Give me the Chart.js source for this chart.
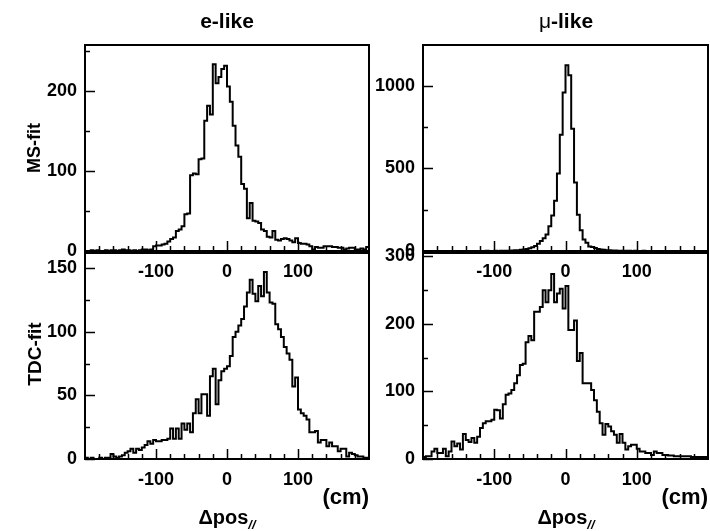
<!DOCTYPE html>
<html lang="en">
<head>
<meta charset="UTF-8">
<title>Δpos histograms</title>
<script src="https://cdn.jsdelivr.net/npm/chart.js"></script>
<style>
  body { margin: 0; background: #fff; }
  #wrap { position: relative; width: 710px; height: 531px; overflow: hidden; font-family: "Liberation Sans", Arial, sans-serif; }
  #wrap canvas { position: absolute; left: 0; top: 0; }
  .lbl { position: absolute; font-weight: bold; color: #000; white-space: nowrap; line-height: 1; }
  .sym { font-weight: normal; }
</style>
</head>
<body>
<div id="wrap">
  <canvas id="msE" width="710" height="531"></canvas>
  <canvas id="msMu" width="710" height="531"></canvas>
  <canvas id="tdcE" width="710" height="531"></canvas>
  <canvas id="tdcMu" width="710" height="531"></canvas>

  <div class="lbl" style="left:227px; top:20px; font-size:21px; transform:translate(-50%,-50%)">e-like</div>
  <div class="lbl" style="left:566px; top:20px; font-size:21px; transform:translate(-50%,-50%)"><span class="sym">μ</span>-like</div>
  <div class="lbl" style="left:34px; top:148px; font-size:18px; transform:translate(-50%,-50%) rotate(-90deg)">MS-fit</div>
  <div class="lbl" style="left:34px; top:354px; font-size:19px; transform:translate(-50%,-50%) rotate(-90deg)">TDC-fit</div>
  <div class="lbl" style="left:369px; top:497px; font-size:22px; transform:translate(-100%,-50%)">(cm)</div>
  <div class="lbl" style="left:708px; top:497px; font-size:22px; transform:translate(-100%,-50%)">(cm)</div>
  <div class="lbl" style="left:227px; top:519px; font-size:20px; transform:translate(-50%,-50%)">Δpos<sub style="font-size:13px; font-style:italic">//</sub></div>
  <div class="lbl" style="left:566px; top:519px; font-size:20px; transform:translate(-50%,-50%)">Δpos<sub style="font-size:13px; font-style:italic">//</sub></div>
</div>

<script>
  // binning: 100 bins of 4 cm from -200 to 200
  var xLow = -200;
  var binWidth = 4;
  var xTicks = [-100, 0, 100];

  // MS-fit, e-like
  var msE = [0,0,1,0,1,0,0,1,0,1,1,0,1,2,1,1,0,1,0,1,2,2,1,2,
    6,7,7,8,9,12,15,17,25,27,31,46,47,95,97,96,115,116,163,182,171,234,210,218,228,232,
    206,187,157,132,118,84,78,41,60,38,37,35,27,25,18,17,25,14,13,15,16,15,13,11,16,
    10,9,9,8,6,2,5,4,4,6,6,6,5,5,4,4,2,3,4,4,2,2,3,2,5];

  // MS-fit, mu-like
  var msMu = [0,0,0,0,0,0,0,0,0,0,0,0,0,0,0,0,0,0,0,0,0,0,1,0,0,1,0,1,1,2,2,
    3,4,5,7,9,12,16,22,30,44,60,78,100,150,215,305,470,705,960,
    1125,1065,740,415,220,125,70,50,28,24,18,12,9,7,5,4,3,3,2,2,1,1,1,0,1,0,0,1,0,0,
    0,0,0,0,0,0,0,0,0,0,0,0,0,0,0,0,0,0,0,0];

  // TDC-fit, e-like
  var tdcE = [1,0,1,0,0,1,0,1,1,4,2,1,2,3,5,6,8,5,8,7,9,11,14,12,15,14,14,15,15,16,
    24,16,24,16,28,23,28,21,36,47,36,51,51,34,65,71,43,62,69,71,
    73,81,96,100,105,110,120,131,141,130,124,136,128,147,131,123,122,106,102,96,88,83,78,57,64,
    39,36,34,31,21,21,22,13,15,15,10,13,10,10,6,8,8,2,5,4,3,2,2,1,1];

  // TDC-fit, mu-like
  var tdcMu = [3,4,4,11,15,9,9,15,4,11,26,19,23,14,37,28,25,31,24,33,46,53,56,56,58,73,72,
    60,81,95,97,102,112,124,139,141,173,182,176,218,218,225,250,232,250,274,232,245,252,223,256,191,191,205,
    145,157,112,112,112,102,87,70,53,36,52,48,41,36,24,37,24,14,19,21,21,15,11,11,9,9,6,11,9,9,
    6,6,5,5,4,4,4,4,4,4,3,3,3,3,3,3];

  // y axis: labelled ticks, small ticks, top of range
  var msEYTicks = [0, 100, 200],       msEYMinor = [50, 150, 250],   msEYMax = 258;
  var msMuYTicks = [0, 500, 1000],     msMuYMinor = [250, 750],      msMuYMax = 1248;
  var tdcEYTicks = [0, 50, 100, 150],  tdcEYMinor = [25, 75, 125],   tdcEYMax = 162;
  var tdcMuYTicks = [0, 100, 200, 300], tdcMuYMinor = [50, 150, 250], tdcMuYMax = 305;

  var W = 710, H = 531, Y_W = 50, X_H = 34;
  var tickFont = { family: '"Liberation Sans", Arial, sans-serif', size: 18, weight: 'bold' };

  // frame + inward ticks like the ROOT style
  var framePlugin = {
    id: 'frame',
    afterDatasetsDraw: function (chart, args, opts) {
      var ctx = chart.ctx, a = chart.chartArea;
      var xs = chart.scales.x, ys = chart.scales.y;
      ctx.save();
      ctx.strokeStyle = '#000';
      ctx.lineWidth = 1.5;
      ctx.beginPath();
      for (var v = -180; v <= 180; v += 20) {
        var px = Math.round(xs.getPixelForValue(v)) + 0.5;
        var len = xTicks.indexOf(v) >= 0 ? 10 : 5;
        ctx.moveTo(px, a.bottom);
        ctx.lineTo(px, a.bottom - len);
      }
      opts.major.forEach(function (v) {
        var py = Math.round(ys.getPixelForValue(v)) + 0.5;
        ctx.moveTo(a.left, py); ctx.lineTo(a.left + 10, py);
      });
      opts.minor.forEach(function (v) {
        var py = Math.round(ys.getPixelForValue(v)) + 0.5;
        ctx.moveTo(a.left, py); ctx.lineTo(a.left + 5, py);
      });
      ctx.stroke();
      ctx.lineWidth = 2;
      ctx.strokeRect(a.left, a.top, a.right - a.left, a.bottom - a.top);
      ctx.restore();
    }
  };

  function histPoints(vals) {
    var pts = vals.map(function (v, i) { return { x: xLow + i * binWidth, y: v }; });
    pts.push({ x: xLow + vals.length * binWidth, y: vals[vals.length - 1] });
    return pts;
  }

  function plain(v) { return String(v); }

  function makePanel(id, vals, box, yTicks, yMinor, yMax) {
    return new Chart(document.getElementById(id), {
      type: 'line',
      data: {
        datasets: [{
          data: histPoints(vals),
          stepped: 'before',
          borderColor: '#000',
          borderWidth: 2,
          pointRadius: 0,
          fill: false
        }]
      },
      options: {
        responsive: false,
        animation: false,
        events: [],
        layout: {
          autoPadding: false,
          padding: { left: box.l - Y_W, top: box.t, right: W - box.r, bottom: H - box.b - X_H }
        },
        plugins: {
          legend: { display: false },
          tooltip: { enabled: false },
          frame: { major: yTicks, minor: yMinor }
        },
        scales: {
          x: {
            type: 'linear', min: xLow, max: -xLow,
            grid: { display: false, drawTicks: false, tickLength: 0 },
            border: { display: false },
            afterBuildTicks: function (s) { s.ticks = xTicks.map(function (v) { return { value: v }; }); },
            afterFit: function (s) { s.height = X_H; },
            ticks: { color: '#000', font: tickFont, padding: 10, maxRotation: 0, autoSkip: false, callback: plain }
          },
          y: {
            min: 0, max: yMax,
            grid: { display: false, drawTicks: false, tickLength: 0 },
            border: { display: false },
            afterBuildTicks: function (s) { s.ticks = yTicks.map(function (v) { return { value: v }; }); },
            afterFit: function (s) { s.width = Y_W; },
            ticks: { color: '#000', font: tickFont, padding: 8, autoSkip: false, callback: plain }
          }
        }
      },
      plugins: [framePlugin]
    });
  }

  makePanel('msE', msE, { l: 85, t: 45, r: 369, b: 251 }, msEYTicks, msEYMinor, msEYMax);
  makePanel('msMu', msMu, { l: 423, t: 45, r: 708, b: 251 }, msMuYTicks, msMuYMinor, msMuYMax);
  makePanel('tdcE', tdcE, { l: 85, t: 253, r: 369, b: 459 }, tdcEYTicks, tdcEYMinor, tdcEYMax);
  makePanel('tdcMu', tdcMu, { l: 423, t: 253, r: 708, b: 459 }, tdcMuYTicks, tdcMuYMinor, tdcMuYMax);
</script>
</body>
</html>
